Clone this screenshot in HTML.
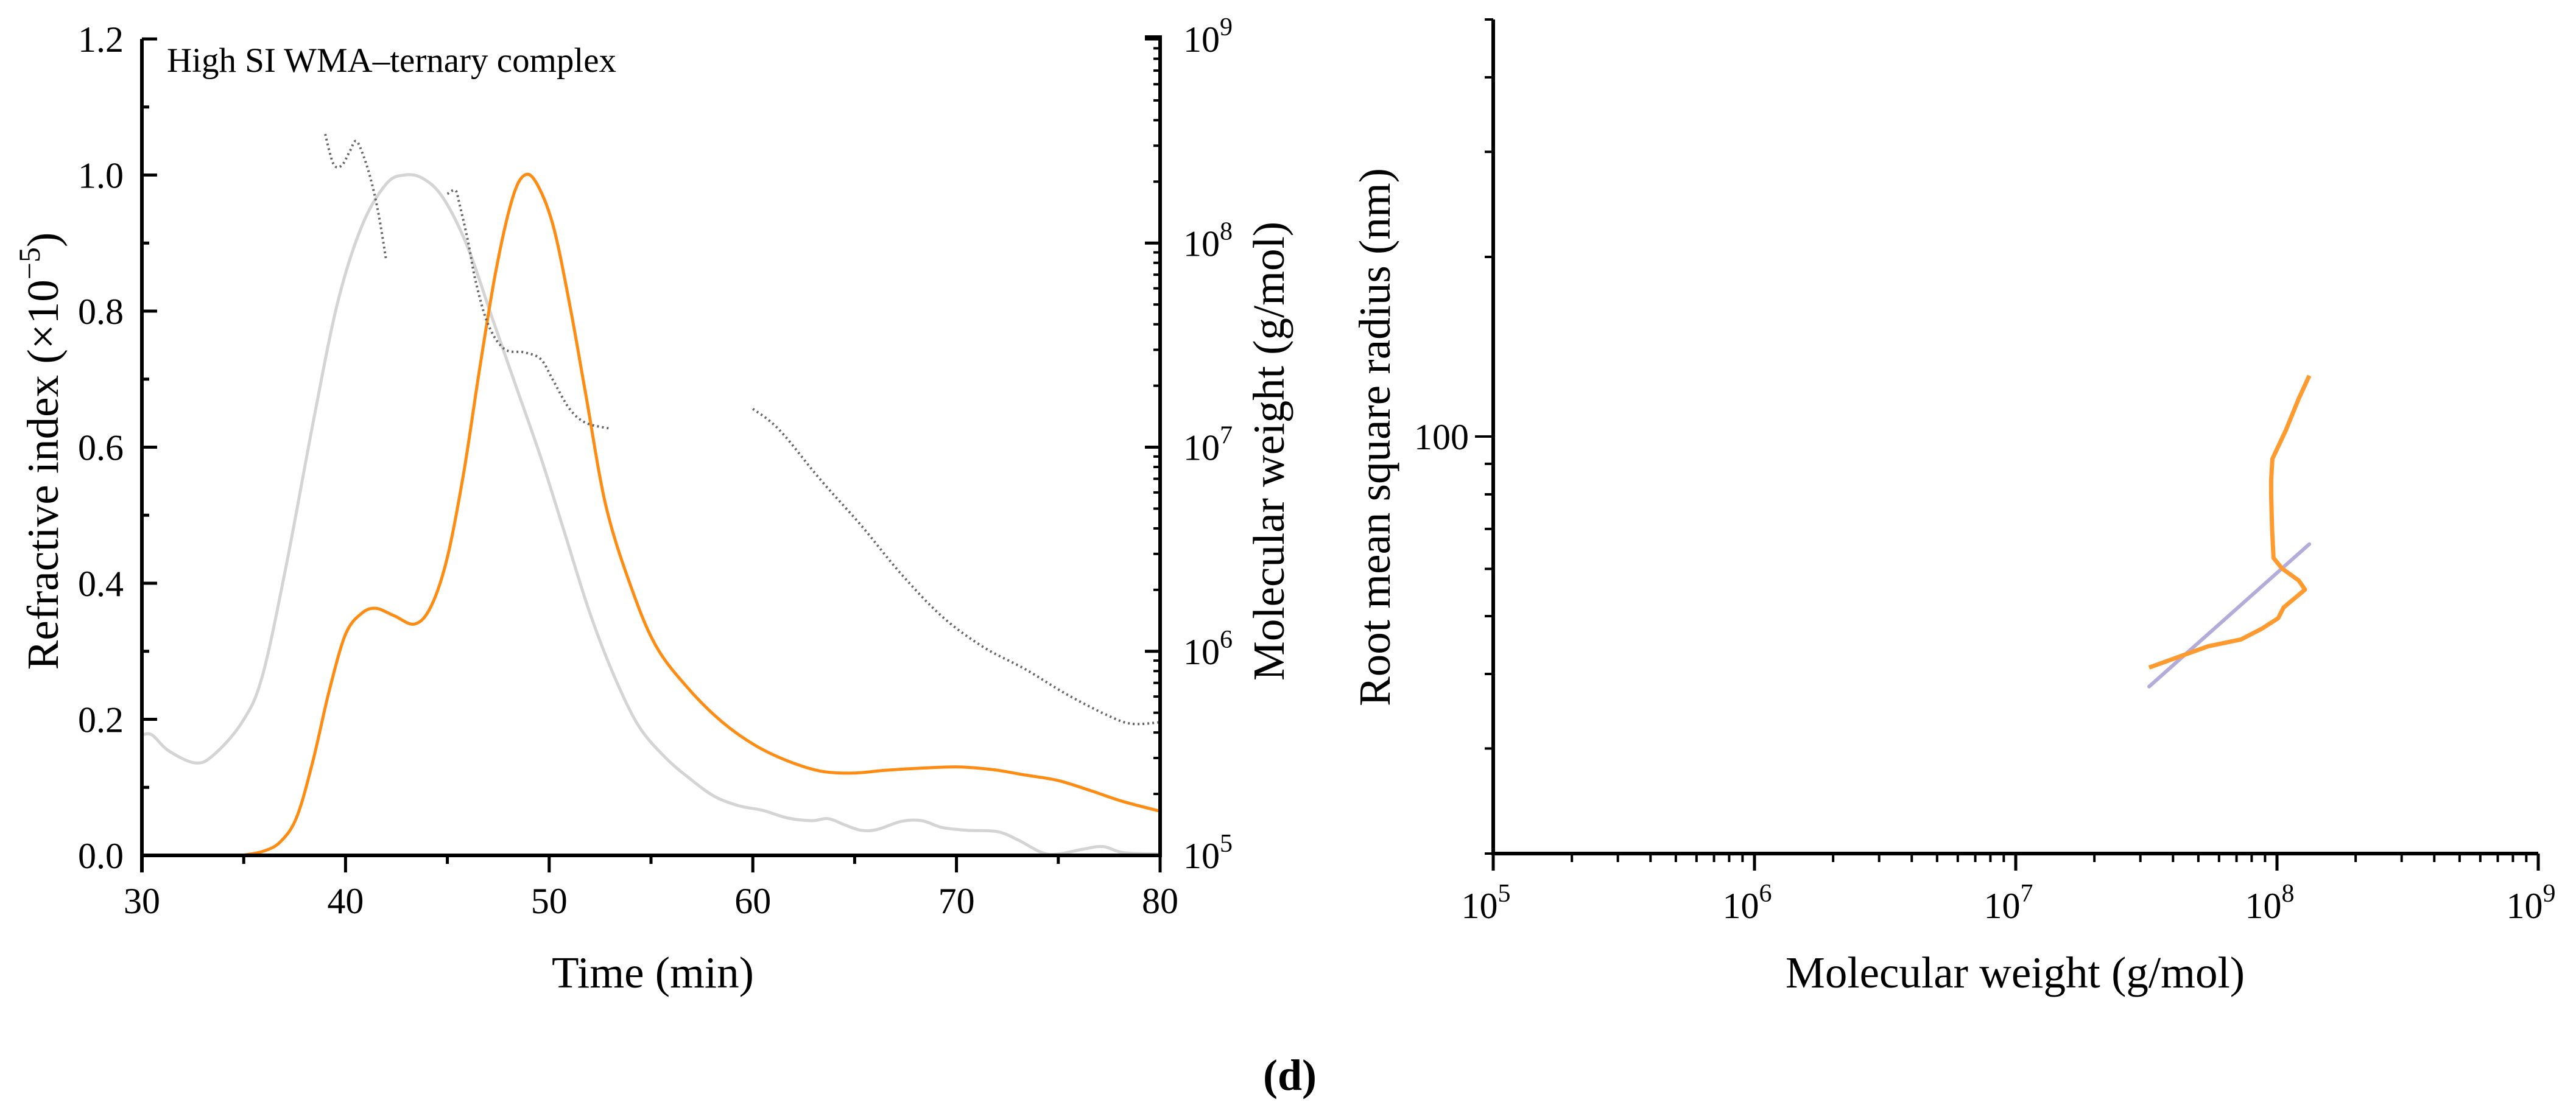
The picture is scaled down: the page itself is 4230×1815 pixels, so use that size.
<!DOCTYPE html>
<html><head><meta charset="utf-8"><title>High SI WMA–ternary complex</title>
<style>
html,body{margin:0;padding:0;background:#fff;}
svg{display:block;font-family:"Liberation Serif","DejaVu Serif",serif;}
</style></head>
<body>
<svg id="fig" width="4230" height="1815" viewBox="0 0 4230 1815" xmlns="http://www.w3.org/2000/svg">
<rect width="4230" height="1815" fill="#fff"/>
<g id="left"></g>
<g id="right"></g>
<text x="2118" y="1790" font-size="72" font-weight="bold" text-anchor="middle">(<tspan>d</tspan>)</text>
</svg>
<script>
// ---- Left panel data ----
const riTime=[30.0,30.5,31.3,32.6,33.5,34.9,35.9,37.1,38.4,39.6,40.8,42.0,42.9,43.8,44.8,46.0,47.2,48.4,49.6,50.8,52.0,53.2,54.4,55.7,56.9,58.1,59.3,60.5,61.7,62.9,63.7,64.5,65.3,66.1,67.3,68.3,69.3,70.5,72.0,73.0,74.2,75.0,76.2,77.2,78.2,80.0];
const riValue=[0.177,0.177,0.154,0.136,0.147,0.195,0.262,0.428,0.635,0.811,0.925,0.987,1.0,0.995,0.966,0.894,0.790,0.687,0.584,0.470,0.356,0.263,0.190,0.144,0.113,0.087,0.073,0.066,0.055,0.051,0.054,0.045,0.037,0.038,0.050,0.051,0.041,0.037,0.035,0.023,0.004,0.002,0.009,0.013,0.004,0.002];
const lsTime=[34.9,35.95,36.8,37.6,38.4,39.2,40.0,40.8,41.5,42.4,43.4,44.2,45.0,45.8,46.6,47.4,48.2,48.8,49.4,50.2,51.0,51.8,52.8,54.1,55.3,56.9,58.5,60.1,61.7,63.3,64.9,66.5,68.1,70.1,71.8,73.4,75.0,76.6,78.2,80.0];
const lsValue=[0,0.006,0.020,0.056,0.139,0.242,0.325,0.356,0.363,0.352,0.340,0.366,0.438,0.562,0.718,0.862,0.966,1.0,0.987,0.925,0.811,0.677,0.512,0.388,0.305,0.243,0.196,0.162,0.139,0.124,0.121,0.125,0.128,0.130,0.126,0.118,0.110,0.095,0.079,0.065];
const mw1Time=[39.0,39.4,39.8,40.2,40.5,40.8,41.2,41.6,42.0];
const mw1Log=[8.534,8.389,8.379,8.448,8.500,8.448,8.327,8.154,7.913];
const mw2Time=[45.0,45.4,45.6,46.0,46.4,47.0,47.8,48.8,49.6,50.2,51.0,51.8,53.0];
const mw2Log=[8.241,8.258,8.189,8.016,7.809,7.602,7.481,7.464,7.430,7.326,7.188,7.119,7.091];
const mw3Time=[60.0,61.3,63.3,65.3,67.3,69.3,71.3,73.4,75.4,77.4,78.6,80.0];
const mw3Log=[7.188,7.085,6.843,6.619,6.377,6.170,6.022,5.911,5.790,5.687,5.645,5.652];
const xTicks=[30,40,50,60,70,80];
const yTicks=["0.0","0.2","0.4","0.6","0.8","1.0","1.2"];
const mwTicks=[5,6,7,8,9];
// ---- Right panel data ----
const rgM=[3.24e7,4.38e7,5.45e7,7.28e7,8.73e7,1.01e8,1.06e8,1.28e8,1.21e8,1.045e8,9.7e7,9.58e7,9.5e7,9.5e7,9.6e7,1.08e8,1.21e8,1.33e8];
const rgR=[41.0,43.0,44.5,45.7,47.6,49.6,51.7,55.4,57.4,60.1,62.6,69.8,80.0,84.5,91.7,102.3,115.6,126.5];
const fitMw=[3.24e7,1.33e8];
const fitRadius=[38.1,66.0];
const rxTicks=[5,6,7,8,9];
const ryTicks=[100];

const NS="http://www.w3.org/2000/svg";
function el(tag,attrs,parent){const e=document.createElementNS(NS,tag);for(const k in attrs)e.setAttribute(k,attrs[k]);parent.appendChild(e);return e;}
function smooth(pts){let d="M"+pts[0][0].toFixed(1)+","+pts[0][1].toFixed(1);for(let i=0;i<pts.length-1;i++){const p0=pts[i-1]||pts[i],p1=pts[i],p2=pts[i+1],p3=pts[i+2]||p2;const c1=[p1[0]+(p2[0]-p0[0])/6,p1[1]+(p2[1]-p0[1])/6],c2=[p2[0]-(p3[0]-p1[0])/6,p2[1]-(p3[1]-p1[1])/6];d+="C"+c1[0].toFixed(1)+","+c1[1].toFixed(1)+" "+c2[0].toFixed(1)+","+c2[1].toFixed(1)+" "+p2[0].toFixed(1)+","+p2[1].toFixed(1);}return d;}

const L={x0:233,x1:1905,y0:1405,y1:64};
const lx=t=>L.x0+(t-30)/50*(L.x1-L.x0);
const ly=v=>L.y0-v/1.2*(L.y0-L.y1);
const lmw=lg=>L.y0-(lg-5)/4*(L.y0-L.y1);
const left=document.getElementById('left');

let g,e,t;
g=el('g',{},left);

el('path',{d:smooth(riTime.map((tt,i)=>[lx(tt),ly(riValue[i])])),fill:'none',stroke:'#d4d4d4','stroke-width':5},g);
g=el('g',{},left);

el('path',{d:smooth(lsTime.map((tt,i)=>[lx(tt),ly(lsValue[i])])),fill:'none',stroke:'#ff8c12','stroke-width':5},g);
[[mw1Time,mw1Log],[mw2Time,mw2Log],[mw3Time,mw3Log]].forEach((s,k)=>{
  const p=el('path',{d:smooth(s[0].map((tt,i)=>[lx(tt),lmw(s[1][i])])),fill:'none',stroke:'#666','stroke-width':4,'stroke-dasharray':'3 5'},left);
  
  
});

el('path',{d:`M${L.x0},${L.y1} V${L.y0+28} M${L.x0-3},${L.y0} H${L.x1} M${L.x1},${L.y0+3} V${L.y1-3} H${L.x1-25}`,stroke:'#000','stroke-width':6,fill:'none'},left);
for(let i=0;i<=12;i++){const y=ly(i/10);el('line',{x1:L.x0,x2:L.x0+(i%2?12:25),y1:y,y2:y,stroke:'#000','stroke-width':5},left);}
yTicks.forEach(s=>{t=el('text',{x:L.x0-30,y:ly(parseFloat(s))+21,'font-size':60,'text-anchor':'end'},left);t.textContent=s;
});
for(let v=30;v<=80;v+=5){const x=lx(v);el('line',{x1:x,x2:x,y1:L.y0,y2:L.y0+(v%10?14:28),stroke:'#000','stroke-width':5},left);}
xTicks.forEach(v=>{t=el('text',{x:lx(v),y:1500,'font-size':60,'text-anchor':'middle'},left);t.textContent=v;
});
mwTicks.forEach((m,i)=>{const y=lmw(m);el('line',{x1:L.x1,x2:L.x1-25,y1:y,y2:y,stroke:'#000','stroke-width':5},left);
 if(i<mwTicks.length-1){for(let k=2;k<=9;k++){const yy=lmw(m+Math.log10(k));el('line',{x1:L.x1,x2:L.x1-11,y1:yy,y2:yy,stroke:'#000','stroke-width':4},left);}}
 t=el('text',{x:L.x1+38,y:y+21,'font-size':60},left);
 t.innerHTML='10<tspan dy="-27" font-size="42">'+m+'</tspan>';});
t=el('text',{x:274,y:118,'font-size':57,textLength:738},left);t.textContent='High SI WMA–ternary complex';

t=el('text',{x:1072,y:1622,'font-size':73,'text-anchor':'middle'},left);t.textContent='Time (min)';

t=el('text',{x:0,y:0,'font-size':73,'text-anchor':'middle',transform:'translate(95,741) rotate(-90)'},left);
t.innerHTML='Refractive index (×10<tspan dy="-30" font-size="50">−5</tspan><tspan dy="30">)</tspan>';

t=el('text',{x:0,y:0,'font-size':73,'text-anchor':'middle',transform:'translate(2108,741) rotate(-90)'},left);t.textContent='Molecular weight (g/mol)';


const R={x0:2452,x1:4168,y0:1402,y1:32};
const rx=m=>R.x0+(Math.log10(m)-5)/4*(R.x1-R.x0);
const ry=r=>R.y0-(Math.log10(r)-Math.log10(20))/Math.log10(25)*(R.y0-R.y1);
const right=document.getElementById('right');
e=el('path',{d:'M'+fitMw.map((m,i)=>rx(m).toFixed(1)+','+ry(fitRadius[i]).toFixed(1)).join(' L'),stroke:'#b3acdb','stroke-width':6,fill:'none','stroke-linecap':'round'},right);

e=el('path',{d:'M'+rgM.map((m,i)=>rx(m).toFixed(1)+','+ry(rgR[i]).toFixed(1)).join(' L'),stroke:'#ff9a2e','stroke-width':7,fill:'none','stroke-linejoin':'round'},right);

el('path',{d:`M${R.x0},${R.y1} V${R.y0+3} M${R.x0-3},${R.y0} H${R.x1}`,stroke:'#000','stroke-width':6,fill:'none'},right);
[20,30,40,50,60,70,80,90,100,200,300,400,500].forEach(v=>{const y=ry(v);const maj=(v===100);el('line',{x1:R.x0,x2:R.x0-(maj?30:14),y1:y,y2:y,stroke:'#000','stroke-width':4},right);});
ryTicks.forEach(v=>{t=el('text',{x:R.x0-40,y:ry(v)+21,'font-size':60,'text-anchor':'end'},right);t.textContent=v;
});
rxTicks.forEach((m,i)=>{const x=rx(Math.pow(10,m));el('line',{x1:x,x2:x,y1:R.y0,y2:R.y0+28,stroke:'#000','stroke-width':5},right);
 if(i<rxTicks.length-1){for(let k=2;k<=9;k++){const xx=rx(k*Math.pow(10,m));el('line',{x1:xx,x2:xx,y1:R.y0,y2:R.y0+14,stroke:'#000','stroke-width':4},right);}}
 t=el('text',{x:x-12,y:1508,'font-size':60,'text-anchor':'middle'},right);
 t.innerHTML='10<tspan dy="-27" font-size="42">'+m+'</tspan>';});
t=el('text',{x:3309,y:1622,'font-size':73,'text-anchor':'middle'},right);t.textContent='Molecular weight (g/mol)';

t=el('text',{x:0,y:0,'font-size':73,'text-anchor':'middle',transform:'translate(2282,718) rotate(-90)'},right);t.textContent='Root mean square radius (nm)';

</script>
</body></html>
